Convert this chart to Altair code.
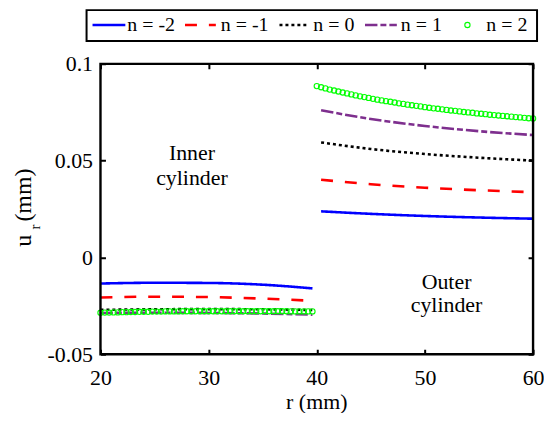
import altair as alt
import numpy as np
import pandas as pd

FONT = "Liberation Serif"
W, H = 435, 292

series = ["n = -2", "n = -1", "n = 0", "n = 1", "n = 2"]
colors = ["#0000FF", "#FF0000", "#000000", "#7E2F8E", "#00FF00"]
dashes = [[1, 0], [12, 12], [3, 3], [12.5, 3, 6, 3]]

x_ticks = [20, 30, 40, 50, 60]
y_ticks = [-0.05, 0, 0.05, 0.1]

# line series (n = -2 .. 1), inner and outer cylinder
r_inner = [20, 25, 30, 35, 39.6]
r_outer = [40.4, 45, 50, 55, 60]
u_inner = {
    "n = -2": [-0.0135, -0.0131, -0.0132, -0.0141, -0.0160],
    "n = -1": [-0.0207, -0.0203, -0.0205, -0.0213, -0.0224],
    "n = 0": [-0.0271, -0.0268, -0.0267, -0.0268, -0.0272],
    "n = 1": [-0.0287, -0.0286, -0.0287, -0.0290, -0.0296],
}
u_outer = {
    "n = -2": [0.0238, 0.0225, 0.0214, 0.0206, 0.0200],
    "n = -1": [0.0401, 0.0378, 0.0360, 0.0347, 0.0337],
    "n = 0": [0.0594, 0.0560, 0.0534, 0.0515, 0.0500],
    "n = 1": [0.0760, 0.0715, 0.0679, 0.0652, 0.0632],
}

# marker series (n = 2)
r_inner_pts = np.round(np.linspace(20, 39.6, 50), 2)
r_outer_pts = np.round(np.linspace(40, 60, 51), 2)
u2_inner = [-0.0286, -0.0285, -0.0285, -0.0284, -0.0284, -0.0283, -0.0283, -0.0282, -0.0282, -0.0281,
            -0.0281, -0.0281, -0.0280, -0.0280, -0.0280, -0.0279, -0.0279, -0.0279, -0.0279, -0.0278,
            -0.0278, -0.0278, -0.0278, -0.0278, -0.0278, -0.0278, -0.0278, -0.0278, -0.0278, -0.0278,
            -0.0278, -0.0278, -0.0278, -0.0278, -0.0278, -0.0278, -0.0278, -0.0278, -0.0278, -0.0278,
            -0.0278, -0.0278, -0.0278, -0.0278, -0.0279, -0.0279, -0.0279, -0.0279, -0.0279, -0.0279]
u2_outer = [0.0885, 0.0879, 0.0873, 0.0867, 0.0862, 0.0857, 0.0852, 0.0847, 0.0842, 0.0837,
            0.0832, 0.0828, 0.0824, 0.0819, 0.0815, 0.0811, 0.0807, 0.0804, 0.0800, 0.0796,
            0.0793, 0.0789, 0.0786, 0.0783, 0.0780, 0.0776, 0.0773, 0.0770, 0.0768, 0.0765,
            0.0762, 0.0759, 0.0757, 0.0754, 0.0751, 0.0749, 0.0747, 0.0744, 0.0742, 0.0740,
            0.0737, 0.0735, 0.0733, 0.0731, 0.0729, 0.0727, 0.0725, 0.0723, 0.0721, 0.0719,
            0.0718]

rows = []
for name in series[:4]:
    for r, u in zip(r_inner, u_inner[name]):
        rows.append({"r": r, "u": u, "n": name, "seg": "inner"})
    for r, u in zip(r_outer, u_outer[name]):
        rows.append({"r": r, "u": u, "n": name, "seg": "outer"})
line_df = pd.DataFrame(rows)
pts_df = pd.DataFrame({
    "r": list(r_inner_pts) + list(r_outer_pts),
    "u": u2_inner + u2_outer,
})

x_enc = alt.X("r:Q", scale=alt.Scale(domain=[20, 60], nice=False, zero=False),
              axis=alt.Axis(values=x_ticks, title=None, grid=True, gridColor="black",
                            gridWidth=2, gridDash=[5, H - 10, 5, 1000], gridOpacity=1,
                            ticks=False, tickSize=0, domain=False, labelFont=FONT,
                            labelFontSize=22, labelColor="black", labelPadding=13,
                            labelFlush=False))
y_enc = alt.Y("u:Q", scale=alt.Scale(domain=[-0.05, 0.1], nice=False, zero=False),
              axis=alt.Axis(values=y_ticks, title=None, grid=True, gridColor="black",
                            gridWidth=2, gridDash=[5, W - 10, 5, 1000], gridOpacity=1,
                            ticks=False, tickSize=0, domain=False, labelFont=FONT,
                            labelFontSize=22, labelColor="black", labelPadding=8,
                            labelExpr="'' + datum.value", labelFlush=False))

lines = alt.Chart(line_df).mark_line(strokeWidth=2.6, interpolate="monotone").encode(
    x=x_enc, y=y_enc,
    color=alt.Color("n:N", scale=alt.Scale(domain=series[:4], range=colors[:4]), legend=None),
    strokeDash=alt.StrokeDash("n:N", scale=alt.Scale(domain=series[:4], range=dashes), legend=None),
    detail="seg:N",
)
points = alt.Chart(pts_df).mark_point(shape="circle", filled=False, size=28, strokeWidth=1.1,
                                      color=colors[4], opacity=1).encode(x="r:Q", y="u:Q")

one = pd.DataFrame({"k": [0]})


def txt(s, x, y, size=22, angle=0, align="center", baseline="alphabetic"):
    return alt.Chart(one).mark_text(text=s, font=FONT, fontSize=size, angle=angle, align=align,
                                    baseline=baseline, color="black").encode(
        x=alt.value(x), y=alt.value(y))


layers = [lines, points]

# frame on top
layers.append(alt.Chart(one).mark_rect(fill=None, stroke="black", strokeWidth=2.4).encode(
    x=alt.value(0), x2=alt.value(W), y=alt.value(0), y2=alt.value(H)))

# annotations
layers += [
    txt("Inner", 92, 97), txt("cylinder", 92, 122),
    txt("Outer", 348, 226), txt("cylinder", 348, 250),
    txt("r (mm)", W / 2, 347, size=22),
    txt("u", -70, 178, size=24, angle=270),
    txt("r", -61, 164, size=15, angle=270),
    txt("(mm)", -70, 132, size=24, angle=270),
]

# legend
LY = -39
layers.append(alt.Chart(one).mark_rect(fill="white", stroke="black", strokeWidth=2).encode(
    x=alt.value(-14), x2=alt.value(439), y=alt.value(-54), y2=alt.value(-23)))
sym_x = [(-8, 25), (85, 116), (180, 208), (266, 298)]
text_x = [27, 121, 214, 302, 388]
for i in range(4):
    layers.append(alt.Chart(one).mark_rule(strokeWidth=2.6, color=colors[i], strokeDash=dashes[i]).encode(
        x=alt.value(sym_x[i][0]), x2=alt.value(sym_x[i][1]), y=alt.value(LY)))
layers.append(alt.Chart(one).mark_point(shape="circle", filled=False, size=28, strokeWidth=1.1,
                                        color=colors[4], opacity=1).encode(
    x=alt.value(369), y=alt.value(LY)))
for i in range(5):
    layers.append(txt(series[i], text_x[i], LY, size=20, align="left", baseline="middle"))

chart = alt.layer(*layers).properties(
    width=W, height=H,
    padding={"left": 93, "top": 55, "right": 11, "bottom": 58},
    autosize=alt.AutoSizeParams(type="none"),
).configure_view(stroke=None)

chart.save("out.html", embed_options={"renderer": "svg", "actions": False})
